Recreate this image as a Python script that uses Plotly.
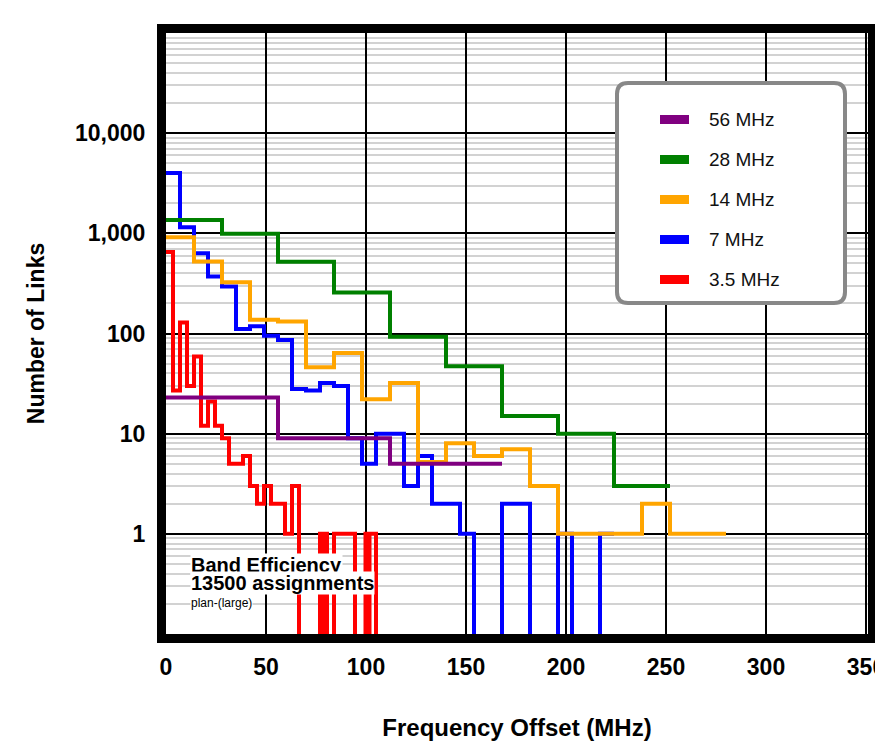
import plotly.graph_objects as go

# ---------------- data ----------------
series_names = ["56 MHz", "28 MHz", "14 MHz", "7 MHz", "3.5 MHz"]
series_colors = ["#800080", "#008000", "#FFA500", "#0000FF", "#FF0000"]

# 56 MHz channel plan (bin edges in MHz, counts per bin)
edges_56 = [0, 56, 112, 168]
counts_56 = [23, 9, 5]

# 28 MHz
edges_28 = [0, 28, 56, 84, 112, 140, 168, 196, 224, 252]
counts_28 = [1360, 990, 520, 256, 93, 47, 15, 10, 3]

# 14 MHz
edges_14 = [0, 14, 28, 42, 56, 70, 84, 98, 112, 126, 140, 154, 168, 182,
            196, 210, 224, 238, 252, 266, 280]
counts_14 = [915, 522, 325, 137, 132, 46, 64, 22, 32, 5.2, 8, 6, 7, 3,
             1, 1, 1, 2, 1, 1]

# 7 MHz
edges_7 = [0, 7, 14, 21, 28, 35, 42, 49, 56, 63, 70, 77, 84, 91, 98, 105,
           112, 119, 126, 133, 140, 147, 154, 161, 168, 175, 182, 189, 196,
           203, 210, 217, 224]
counts_7 = [4000, 1150, 634, 370, 294, 111, 118, 95, 86, 28, 27, 32, 30, 9,
            5, 10, 10, 3, 6, 2, 2, 1, 0, 0, 2, 2, 0, 0, 1, 0, 0, 1]

# 3.5 MHz
edges_35 = [0, 3.5, 7, 10.5, 14, 17.5, 21, 24.5, 28, 31.5, 35, 38.5, 42,
            45.5, 49, 52.5, 56, 59.5, 63, 66.5, 77, 78.5, 79, 80.5, 84,
            94.5, 99.75, 101.25, 101.75, 105]
counts_35 = [650, 27, 129, 30, 59, 12, 21, 12, 9, 5, 5, 6, 3, 2, 3, 2, 2,
             1, 3, 0, 1, 0, 1, 0, 1, 0, 1, 0, 1]
end_35 = 0  # drops to zero after the last bin

x_tick_vals = [0, 50, 100, 150, 200, 250, 300, 350]
x_tick_text = ["0", "50", "100", "150", "200", "250", "300", "350"]
y_tick_vals = [1, 10, 100, 1000, 10000]
y_tick_text = ["1", "10", "100", "1,000", "10,000"]

note_lines = ["Band Efficiency", "13500 assignments", "plan-(large)"]

# ---------------- figure ----------------
FLOOR = 1e-3  # zero counts are drawn below the visible log range


def step_xy(edges, counts, end_value=None):
    ys = list(counts) + [counts[-1] if end_value is None else end_value]
    ys = [v if v > 0 else FLOOR for v in ys]
    return list(edges), ys


fig = go.Figure()

plot_data = [
    ("3.5 MHz", edges_35, counts_35, end_35),
    ("7 MHz", edges_7, counts_7, None),
    ("14 MHz", edges_14, counts_14, None),
    ("28 MHz", edges_28, counts_28, None),
    ("56 MHz", edges_56, counts_56, None),
]
color_of = dict(zip(series_names, series_colors))

for name, e, c, end in plot_data:
    xs, ys = step_xy(e, c, end)
    fig.add_trace(go.Scatter(
        x=xs, y=ys, mode="lines", line=dict(color=color_of[name], width=4, shape="hv"),
        name=name, showlegend=False, hoverinfo="skip"))

FONT = "Liberation Sans, Arial, sans-serif"

W, H = 875, 743
ML, MR, MT, MB = 166, 7, 33, 109
PW, PH = W - ML - MR, H - MT - MB


def px_to_paper(px, py):
    return (px - ML) / PW, (H - MB - py) / PH


# rounded legend frame
x0, y0 = px_to_paper(617, 83)
x1, y1 = px_to_paper(845, 303)
rx, ry = 11 / PW, 11 / PH
path = (f"M{x0+rx},{y0} L{x1-rx},{y0} Q{x1},{y0} {x1},{y0-ry} "
        f"L{x1},{y1+ry} Q{x1},{y1} {x1-rx},{y1} L{x0+rx},{y1} "
        f"Q{x0},{y1} {x0},{y1+ry} L{x0},{y0-ry} Q{x0},{y0} {x0+rx},{y0} Z")
fig.add_shape(type="path", path=path, xref="paper", yref="paper",
              fillcolor="white", line=dict(color="#888888", width=4), layer="above")

# legend entries: swatch + label
for i, name in enumerate(series_names):
    row_y = 119.5 + 40 * i
    sx0, sy = px_to_paper(660, row_y)
    sx1, _ = px_to_paper(689, row_y)
    tx, _ = px_to_paper(707, row_y)
    fig.add_shape(type="line", x0=sx0, x1=sx1, y0=sy, y1=sy, xref="paper", yref="paper",
                  line=dict(color=color_of[name], width=9), layer="above")
    fig.add_annotation(x=tx, y=sy, xref="paper", yref="paper", text=name, showarrow=False,
                       xanchor="left", yanchor="middle",
                       font=dict(family=FONT, size=19, color="#111"))

# note text
note_specs = [(-0.31, 20, "bold"), (-0.495, 20, "bold"), (-0.69, 12, "normal")]
for txt, (yv, fs, wt) in zip(note_lines, note_specs):
    fig.add_annotation(
        x=12, y=yv, xref="x", yref="y", text=txt, showarrow=False,
        xanchor="left", yanchor="middle", bgcolor="white", borderpad=0,
        font=dict(family=FONT, size=fs, color="#000", weight=wt))

minor_vals = [m * 10 ** k for k in range(-1, 5) for m in range(2, 10)]

fig.update_layout(
    width=W, height=H,
    margin=dict(l=ML, r=MR, t=MT, b=MB, autoexpand=False),
    paper_bgcolor="white", plot_bgcolor="white",
    font=dict(family=FONT, color="#000"),
    showlegend=False,
    xaxis=dict(
        range=[0, 351], tickmode="array", tickvals=x_tick_vals, ticktext=x_tick_text,
        showgrid=True, gridcolor="#000", gridwidth=2, zeroline=False,
        showline=True, linecolor="#000", linewidth=9, mirror=True, ticks="",
        ticklabeloverflow="allow", ticklabelstandoff=4, automargin=False,
        tickfont=dict(family=FONT, size=23, weight="bold"),
        title=dict(text="Frequency Offset (MHz)", standoff=44,
                   font=dict(family=FONT, size=24, weight="bold"))),
    yaxis=dict(
        type="log", range=[-1, 5], tickmode="array", tickvals=y_tick_vals, ticktext=y_tick_text,
        showgrid=True, gridcolor="#000", gridwidth=2, zeroline=False,
        showline=True, linecolor="#000", linewidth=9, mirror=True, ticks="",
        ticklabelstandoff=7, automargin=False,
        tickfont=dict(family=FONT, size=23, weight="bold"),
        minor=dict(tickmode="array", tickvals=minor_vals, showgrid=True,
                   gridcolor="#d2d2d2", gridwidth=2, ticks=""),
        title=dict(text="Number of Links", standoff=27,
                   font=dict(family=FONT, size=23, weight="bold"))),
)

fig.write_html("out.html")
